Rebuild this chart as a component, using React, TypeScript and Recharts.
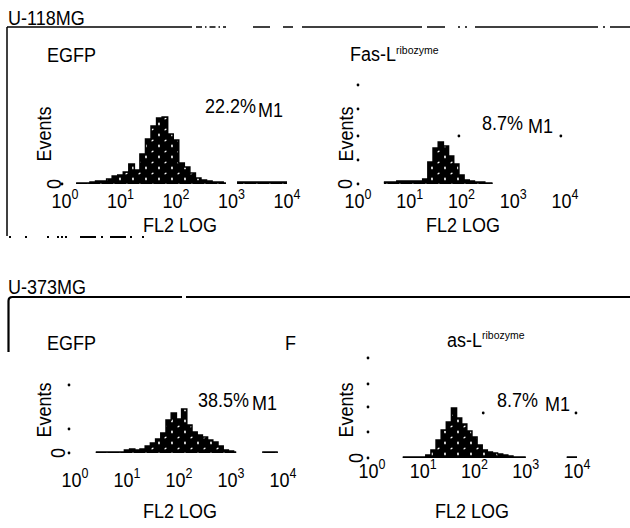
import { ComposedChart, Area, XAxis, YAxis, ReferenceDot } from "recharts";

// FL2 fluorescence, log10 position of each channel bin (10^0 .. 10^4)
const LOG_X = [
  0, 0.1, 0.2, 0.3, 0.4, 0.5, 0.6, 0.7, 0.8, 0.9,
  1, 1.1, 1.2, 1.3, 1.4, 1.5, 1.6, 1.7, 1.8, 1.9,
  2, 2.1, 2.2, 2.3, 2.4, 2.5, 2.6, 2.7, 2.8, 2.9,
  3, 3.1, 3.2, 3.3, 3.4, 3.5, 3.6, 3.7, 3.8, 3.9, 4,
];
const DECADES = [0, 1, 2, 3, 4];

// Events per bin (null = no events drawn)
const U118_EGFP = [
  null, null, 1, 1, 1, 2, 3, 3, 5, 8,
  9, 12, 20, 14, 30, 45, 58, 66, 67, 50,
  44, 21, 17, 11, 6, 4, 3, 2, 2, 1,
  null, 2, 2, 2, 2, 2, 2, 2, 2, 2, 2,
];
const U118_FASL = [
  null, null, null, null, null, 2, 2, 2, 3, 3,
  3, 3, 3, 5, 22, 36, 42, 38, 28, 20,
  9, 4, 3, 2, 2, 1, 1, null, null, null,
  null, null, null, null, null, null, null, null, null, null, null,
];
const U373_EGFP = [
  null, null, null, null, 1, 1, 1, 1, 1, 1,
  3, 4, 3, 4, 7, 10, 14, 20, 33, 40,
  34, 44, 28, 21, 18, 16, 13, 11, 7, 3,
  2, 1, null, null, null, null, 1, 1, 1, 1, null,
];
const U373_FASL = [
  null, null, null, null, null, null, 1, 1, 1, 1,
  1, 3, 8, 18, 28, 36, 50, 40, 34, 27,
  21, 13, 8, 6, 5, 4, 3, 2, 1, 1,
  1, null, null, null, null, null, null, null, 1, 1, 1,
];

// Y axis marker dots
const U118_EGFP_YTICKS = [0];
const U118_FASL_YTICKS = [0, 24, 48, 75, 99];
const U373_EGFP_YTICKS = [0, 24, 68];
const U373_FASL_YTICKS = [0, 26, 51, 74, 100];

// M1 gate end points
const U118_FASL_M1_X = [1.95, 3.92];
const U118_FASL_M1_Y = 48;
const U373_FASL_M1_X = [2.17, 3.98];
const U373_FASL_M1_Y = 45;

const W = 630;
const H = 528;
const AXIS_H = 40;
const AXIS_W = 30;
const FONT = "'Liberation Sans', Arial, Helvetica, sans-serif";
const STRETCH = 1.12; // scanned lettering is a bit taller than Arial

interface PanelLayout {
  id: string;
  left: number;
  right: number;
  top: number;
  bottom: number;
  tickDy: number;
  dotDx: number;
  zeroDx: number;
}

const P1: PanelLayout = { id: "p1", left: 65, right: 287, top: 84, bottom: 184, tickDy: 24, dotDx: -3, zeroDx: -11 };
const P2: PanelLayout = { id: "p2", left: 358, right: 565, top: 84, bottom: 184, tickDy: 24, dotDx: 0, zeroDx: -13 };
const P3: PanelLayout = { id: "p3", left: 75, right: 283, top: 353, bottom: 453, tickDy: 34, dotDx: -6, zeroDx: -17 };
const P4: PanelLayout = { id: "p4", left: 372, right: 577, top: 358, bottom: 458, tickDy: 20, dotDx: -4, zeroDx: -16 };

function DecadeTick(props: any) {
  const { x, payload, dy, base } = props;
  return (
    <text
      transform={`translate(${x} ${base + dy}) scale(1 ${STRETCH})`}
      textAnchor="middle"
      fontSize={18}
      fontFamily={FONT}
      fill="#000"
    >
      10
      <tspan fontSize={12.5} dy={-8}>
        {payload.value}
      </tspan>
    </text>
  );
}

function EventTick(props: any) {
  const { y, payload, dotDx, zeroDx, left } = props;
  const x = left;
  return (
    <g>
      <circle cx={x + dotDx} cy={y} r={1.4} fill="#000" />
      {payload.value === 0 && (
        <text
          transform={`translate(${x + zeroDx} ${y}) rotate(-90) scale(1 ${STRETCH})`}
          textAnchor="middle"
          dominantBaseline="central"
          fontSize={18}
          fontFamily={FONT}
          fill="#000"
        >
          0
        </text>
      )}
    </g>
  );
}

interface HistogramProps {
  layout: PanelLayout;
  values: (number | null)[];
  yTicks: number[];
  markerX?: number[];
  markerY?: number;
}

function Histogram({ layout, values, yTicks, markerX = [], markerY = 0 }: HistogramProps) {
  const rows = LOG_X.map((x, i) => ({ x, events: values[i] }));
  const fillId = `speckle-${layout.id}`;
  return (
    <div style={{ position: "absolute", left: 0, top: 0 }}>
      <ComposedChart
        width={W}
        height={H}
        data={rows}
        margin={{
          top: layout.top,
          bottom: H - layout.bottom - AXIS_H,
          left: layout.left - AXIS_W,
          right: W - layout.right,
        }}
      >
        <defs>
          <pattern id={fillId} width={13} height={11} patternUnits="userSpaceOnUse">
            <rect width={13} height={11} fill="#000" />
            <ellipse cx={3} cy={3} rx={0.9} ry={1.4} fill="#fff" />
            <ellipse cx={9.5} cy={8.5} rx={1.3} ry={0.8} fill="#fff" transform="rotate(-40 9.5 8.5)" />
          </pattern>
        </defs>
        <XAxis
          type="number"
          dataKey="x"
          domain={[0, 4]}
          ticks={DECADES}
          interval={0}
          height={AXIS_H}
          axisLine={false}
          tickLine={false}
          tick={(p: any) => <DecadeTick {...p} base={layout.bottom} dy={layout.tickDy} />}
        />
        <YAxis
          type="number"
          domain={[0, 100]}
          ticks={yTicks}
          interval={0}
          width={AXIS_W}
          axisLine={false}
          tickLine={false}
          allowDataOverflow
          tick={(p: any) => (
            <EventTick {...p} left={layout.left} dotDx={layout.dotDx} zeroDx={layout.zeroDx} />
          )}
        />
        <Area
          dataKey="events"
          type="step"
          stroke="#000"
          strokeWidth={1.5}
          fill={`url(#${fillId})`}
          fillOpacity={1}
          baseValue={0}
          isAnimationActive={false}
          dot={false}
          activeDot={false}
        />
        {markerX.map((mx) => (
          <ReferenceDot key={mx} x={mx} y={markerY} r={1.4} fill="#000" stroke="none" />
        ))}
      </ComposedChart>
    </div>
  );
}

function Txt({ x, y, children, anchor = "start", size = 18, rotate = false }: any) {
  const transform = rotate
    ? `translate(${x} ${y}) rotate(-90) scale(1 ${STRETCH})`
    : `translate(${x} ${y}) scale(1 ${STRETCH})`;
  return (
    <text
      transform={transform}
      textAnchor={anchor}
      fontSize={size}
      fontFamily={FONT}
      fill="#000"
      dominantBaseline={rotate ? "central" : undefined}
    >
      {children}
    </text>
  );
}

function Frame() {
  return (
    <svg width={W} height={H} style={{ position: "absolute", left: 0, top: 0, pointerEvents: "none" }}>
      {/* U-118MG block */}
      <Txt x={8} y={25}>U-118MG</Txt>
      <g stroke="#000" strokeWidth={1.5}>
        <line x1={7} y1={27} x2={192} y2={27} />
        <line x1={196} y1={27} x2={226} y2={27} strokeDasharray="6 3 1.5 3" />
        <line x1={253} y1={27} x2={270} y2={27} />
        <line x1={283} y1={27} x2={293} y2={27} />
        <line x1={302} y1={27} x2={422} y2={27} />
        <line x1={427} y1={27} x2={445} y2={27} />
        <line x1={458} y1={27} x2={460} y2={27} />
        <line x1={465} y1={27} x2={467} y2={27} />
        <line x1={475} y1={27} x2={598} y2={27} />
        <line x1={603} y1={27} x2={605} y2={27} />
        <line x1={610} y1={27} x2={630} y2={27} />
        <line x1={7} y1={27} x2={7} y2={236} />
      </g>
      <g stroke="#000" strokeWidth={2}>
        <line x1={9} y1={237} x2={11} y2={237} />
        <line x1={25} y1={237} x2={27} y2={237} />
        <line x1={47} y1={237} x2={49} y2={237} />
        <line x1={57} y1={237} x2={68} y2={237} strokeDasharray="2 2" />
        <line x1={80} y1={237} x2={96} y2={237} />
        <line x1={101} y1={237} x2={103} y2={237} />
        <line x1={110} y1={237} x2={126} y2={237} />
        <line x1={130} y1={237} x2={132} y2={237} />
        <line x1={142} y1={237} x2={144} y2={237} />
      </g>
      <Txt x={47} y={62}>EGFP</Txt>
      <Txt x={44} y={134} rotate anchor="middle">Events</Txt>
      <Txt x={205} y={113}>22.2%</Txt>
      <Txt x={258} y={117}>M1</Txt>
      <Txt x={180} y={232} anchor="middle">FL2 LOG</Txt>

      <g transform={`translate(350 61) scale(1 ${STRETCH})`}>
        <text fontSize={18} fontFamily={FONT} fill="#000">
          Fas-L
          <tspan fontSize={10.5} dy={-6}>ribozyme</tspan>
        </text>
      </g>
      <Txt x={346} y={134} rotate anchor="middle">Events</Txt>
      <Txt x={482} y={130}>8.7%</Txt>
      <Txt x={528} y={133}>M1</Txt>
      <Txt x={463} y={232} anchor="middle">FL2 LOG</Txt>

      {/* U-373MG block */}
      <Txt x={8} y={294}>U-373MG</Txt>
      <path d="M 8.5 352 L 8.5 301 Q 8.5 297 12.5 297 L 182 297" fill="none" stroke="#000" strokeWidth={2.2} />
      <line x1={186} y1={297} x2={630} y2={297} stroke="#000" strokeWidth={2.2} />
      <Txt x={47} y={350}>EGFP</Txt>
      <Txt x={285} y={350}>F</Txt>
      <Txt x={44} y={410} rotate anchor="middle">Events</Txt>
      <Txt x={198} y={407}>38.5%</Txt>
      <Txt x={252} y={410}>M1</Txt>
      <Txt x={180} y={518} anchor="middle">FL2 LOG</Txt>

      <g transform={`translate(447 347) scale(1 ${STRETCH})`}>
        <text fontSize={18} fontFamily={FONT} fill="#000">
          as-L
          <tspan fontSize={10.5} dy={-7}>ribozyme</tspan>
        </text>
      </g>
      <Txt x={346} y={410} rotate anchor="middle">Events</Txt>
      <Txt x={497} y={407}>8.7%</Txt>
      <Txt x={545} y={411}>M1</Txt>
      <Txt x={472} y={518} anchor="middle">FL2 LOG</Txt>
    </svg>
  );
}

export default function App() {
  return (
    <div style={{ position: "absolute", left: 0, top: 0, width: W, height: H, background: "#fff" }}>
      <Histogram layout={P1} values={U118_EGFP} yTicks={U118_EGFP_YTICKS} />
      <Histogram
        layout={P2}
        values={U118_FASL}
        yTicks={U118_FASL_YTICKS}
        markerX={U118_FASL_M1_X}
        markerY={U118_FASL_M1_Y}
      />
      <Histogram layout={P3} values={U373_EGFP} yTicks={U373_EGFP_YTICKS} />
      <Histogram
        layout={P4}
        values={U373_FASL}
        yTicks={U373_FASL_YTICKS}
        markerX={U373_FASL_M1_X}
        markerY={U373_FASL_M1_Y}
      />
      <Frame />
    </div>
  );
}
